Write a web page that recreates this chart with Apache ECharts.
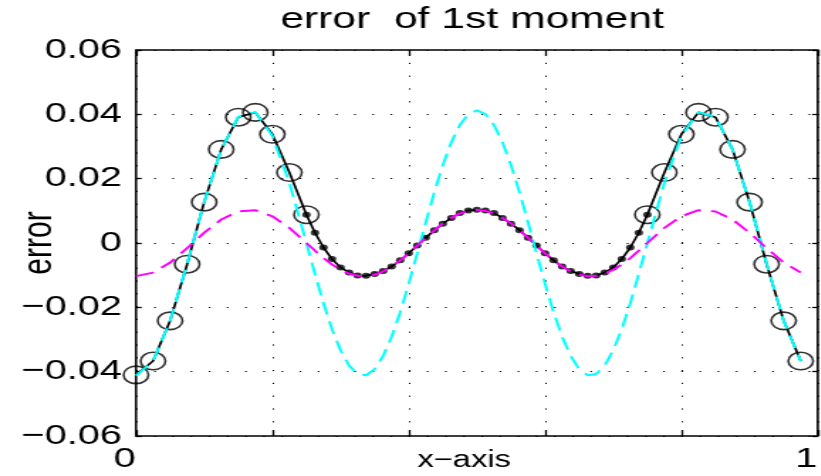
<!DOCTYPE html>
<html>
<head>
<meta charset="utf-8">
<script src="https://cdn.jsdelivr.net/npm/echarts@6/dist/echarts.min.js"></script>
<style>
  html, body { margin: 0; padding: 0; background: #fff; overflow: hidden; }
  #wrap { width: 821px; height: 476px; overflow: hidden; }
  #chart { height: 476px; transform-origin: 0 0; }
</style>
</head>
<body>
<div id="wrap"><div id="chart"></div></div>
<script>
// Mesh nodes: coarse spacing near the ends, fine spacing in the middle band
const xs = [
  0, 0.025, 0.05, 0.075, 0.1, 0.125, 0.15, 0.175, 0.2, 0.225, 0.25,
  0.2625, 0.275, 0.2875, 0.3, 0.3125, 0.325, 0.3375, 0.35, 0.3625, 0.375,
  0.3875, 0.4, 0.4125, 0.425, 0.4375, 0.45, 0.4625, 0.475, 0.4875, 0.5,
  0.5125, 0.525, 0.5375, 0.55, 0.5625, 0.575, 0.5875, 0.6, 0.6125, 0.625,
  0.6375, 0.65, 0.6625, 0.675, 0.6875, 0.7, 0.7125, 0.725, 0.7375,
  0.75, 0.775, 0.8, 0.825, 0.85, 0.875, 0.9, 0.925, 0.95, 0.975
];

// computed error (black, solid with markers)
const errComputed = [
  -0.0410, -0.0367, -0.0242, -0.0066, 0.0127, 0.0291, 0.0391, 0.0406, 0.0338, 0.0219, 0.0088,
  0.0032, -0.0014, -0.0050, -0.0076, -0.0092, -0.0101, -0.0102, -0.0096, -0.0087, -0.0073,
  -0.0054, -0.0032, -0.0008, 0.0016, 0.0040, 0.0060, 0.0078, 0.0093, 0.0101, 0.0103,
  0.0101, 0.0093, 0.0078, 0.0060, 0.0040, 0.0016, -0.0008, -0.0032, -0.0054, -0.0073,
  -0.0087, -0.0096, -0.0102, -0.0101, -0.0092, -0.0076, -0.0050, -0.0014, 0.0032,
  0.0088, 0.0219, 0.0338, 0.0406, 0.0391, 0.0291, 0.0127, -0.0066, -0.0242, -0.0367
];

// coarse-grid reference error (cyan dashed)
const errCoarse = [
  -0.0412, -0.0367, -0.0242, -0.0064, 0.0127, 0.0291, 0.0392, 0.0407, 0.0333, 0.0187, 0.0000,
  -0.0096, -0.0187, -0.0268, -0.0333, -0.0381, -0.0407, -0.0411, -0.0392, -0.0351, -0.0291,
  -0.0215, -0.0127, -0.0032, 0.0064, 0.0158, 0.0242, 0.0313, 0.0367, 0.0401, 0.0412,
  0.0401, 0.0367, 0.0313, 0.0242, 0.0158, 0.0064, -0.0032, -0.0127, -0.0215, -0.0291,
  -0.0351, -0.0392, -0.0411, -0.0407, -0.0381, -0.0333, -0.0268, -0.0187, -0.0096,
  0.0000, 0.0187, 0.0333, 0.0407, 0.0392, 0.0291, 0.0127, -0.0064, -0.0242, -0.0367
];

// fine-grid reference error (magenta dashed)
const errFine = [
  -0.0103, -0.0092, -0.0061, -0.0016, 0.0032, 0.0073, 0.0098, 0.0102, 0.0083, 0.0047, 0.0000,
  -0.0024, -0.0047, -0.0067, -0.0083, -0.0095, -0.0102, -0.0103, -0.0098, -0.0088, -0.0073,
  -0.0054, -0.0032, -0.0008, 0.0016, 0.0039, 0.0061, 0.0078, 0.0092, 0.0100, 0.0103,
  0.0100, 0.0092, 0.0078, 0.0061, 0.0039, 0.0016, -0.0008, -0.0032, -0.0054, -0.0073,
  -0.0088, -0.0098, -0.0103, -0.0102, -0.0095, -0.0083, -0.0067, -0.0047, -0.0024,
  0.0000, 0.0047, 0.0083, 0.0102, 0.0098, 0.0073, 0.0032, -0.0016, -0.0061, -0.0092
];

const xTickLabels = { 0: '0', 1: '1' };
const titleText = 'error  of 1st moment';
const xName = 'x\u2212axis';
const yName = 'error';

// The figure is drawn narrow and stretched sideways, like the printed plot.
const STRETCH = 1.42;
const W = 821 / STRETCH;
const chartDom = document.getElementById('chart');
chartDom.style.width = W + 'px';
chartDom.style.transform = 'scaleX(' + STRETCH + ')';

const sx = v => v / STRETCH;   // page x -> chart x
const FONT = 'Liberation Sans, Arial, Helvetica, sans-serif';

const pairs = (vals) => xs.map((x, i) => [x, vals[i]]);
const circlePts = xs.map((x, i) => [x, errComputed[i]]).filter(p => p[0] <= 0.25 + 1e-9 || p[0] >= 0.75 - 1e-9);
const dotPts = xs.map((x, i) => [x, errComputed[i]]).filter(p => p[0] >= 0.25 - 1e-9 && p[0] <= 0.75 + 1e-9);

const fmtY = v => {
  if (Math.abs(v) < 1e-9) return '0';
  return (v < 0 ? '\u2212' : '') + Math.abs(v).toFixed(2);
};
const fmtX = v => {
  for (const k in xTickLabels) if (Math.abs(v - Number(k)) < 1e-9) return xTickLabels[k];
  return '';
};

const dotted = { color: '#000', width: 1, type: [1.2, 11.6] };
const tickStyle = { color: '#000', width: 1.3 };

const chart = echarts.init(chartDom, null, { renderer: 'canvas' });
chart.setOption({
  animation: false,
  backgroundColor: '#fff',
  title: {
    text: titleText,
    left: sx(465),
    top: 0,
    textAlign: 'center',
    textStyle: { fontFamily: FONT, fontSize: 30, fontWeight: 'normal', color: '#000' }
  },
  grid: {
    left: sx(136), right: sx(821 - 818), top: 50, bottom: 476 - 436,
    outerBoundsMode: 'none', containLabel: false,
    show: true, borderColor: '#000', borderWidth: 1.6, backgroundColor: 'transparent'
  },
  xAxis: [{
    type: 'value', min: 0, max: 1, interval: 0.2, position: 'bottom',
    name: xName, nameLocation: 'middle', nameGap: 13, nameMoveOverlap: false,
    nameTextStyle: { fontFamily: FONT, fontSize: 23, color: '#000', verticalAlign: 'top', padding: [0, 18, 0, 0] },
    axisLine: { show: false, onZero: false },
    axisTick: { show: true, inside: true, length: 6, lineStyle: tickStyle },
    axisLabel: { formatter: fmtX, fontFamily: FONT, fontSize: 28, color: '#000', margin: 9, padding: [0, 16, 0, 0], showMinLabel: true, showMaxLabel: true },
    splitLine: { show: true, lineStyle: dotted }
  }, {
    type: 'value', min: 0, max: 1, interval: 0.2, position: 'top',
    axisLine: { show: false, onZero: false },
    axisTick: { show: true, inside: true, length: 6, lineStyle: tickStyle },
    axisLabel: { show: false },
    splitLine: { show: false }
  }],
  yAxis: [{
    type: 'value', min: -0.06, max: 0.06, interval: 0.02, position: 'left',
    name: yName, nameLocation: 'middle', nameGap: 53, nameRotate: 90, nameMoveOverlap: false,
    nameTextStyle: { fontFamily: FONT, fontSize: 30, color: '#000' },
    axisLine: { show: false, onZero: false },
    axisTick: { show: true, inside: true, length: 4, lineStyle: tickStyle },
    axisLabel: { formatter: fmtY, fontFamily: FONT, fontSize: 28, color: '#000', margin: sx(14) },
    splitLine: { show: true, lineStyle: dotted }
  }, {
    type: 'value', min: -0.06, max: 0.06, interval: 0.02, position: 'right',
    axisLine: { show: false, onZero: false },
    axisTick: { show: true, inside: true, length: 4, lineStyle: tickStyle },
    axisLabel: { show: false },
    splitLine: { show: false }
  }],
  series: [
    {
      name: 'computed', type: 'line', data: pairs(errComputed),
      showSymbol: false, symbol: 'none',
      lineStyle: { color: '#000', width: 1.7 }, z: 2
    },
    {
      name: 'nodes coarse', type: 'scatter', data: circlePts,
      symbol: 'circle', symbolSize: 17.5,
      itemStyle: { color: 'transparent', borderColor: '#000', borderWidth: 1.6 }, z: 3
    },
    {
      name: 'nodes fine', type: 'scatter', data: dotPts,
      symbol: 'circle', symbolSize: 6,
      itemStyle: { color: '#000' }, z: 3
    },
    {
      name: 'coarse ref', type: 'line', data: pairs(errCoarse),
      showSymbol: false, symbol: 'none',
      lineStyle: { color: '#00ffff', width: 2, type: [13, 7] }, z: 4
    },
    {
      name: 'fine ref', type: 'line', data: pairs(errFine),
      showSymbol: false, symbol: 'none',
      lineStyle: { color: '#ff00ff', width: 2, type: [13, 7] }, z: 5
    }
  ]
});
</script>
</body>
</html>
